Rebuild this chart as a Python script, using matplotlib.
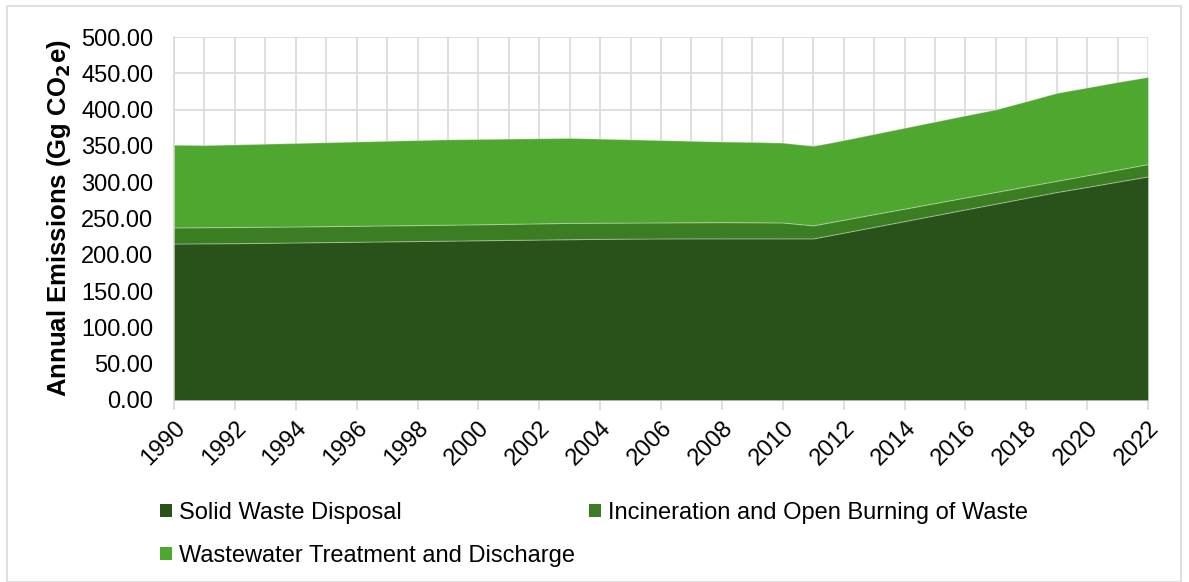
import matplotlib
matplotlib.use("Agg")
import matplotlib.pyplot as plt
from matplotlib.patches import Rectangle, Patch
from matplotlib.ticker import MultipleLocator, FuncFormatter

plt.rcParams['font.family'] = ['Liberation Sans', 'DejaVu Sans']

years = list(range(1990, 2023))

solid_waste = [215.5, 215.8, 216.0, 216.5, 217.0, 217.5, 218.0, 218.5, 219.0, 219.5,
               220.0, 220.5, 221.0, 221.5, 222.0, 222.3, 222.5, 222.6, 222.6, 222.6,
               222.6, 222.6, 230.5, 238.5, 246.5, 254.5, 262.5, 270.5, 278.5, 286.5,
               293.5, 300.8, 308.0]

incineration = [22.2, 22.2, 22.3, 22.2, 22.0, 22.0, 22.0, 22.0, 22.0, 22.0,
                22.0, 22.2, 22.3, 22.5, 22.2, 22.1, 22.1, 22.2, 22.4, 22.2,
                21.9, 18.0, 17.8, 17.5, 17.1, 16.8, 16.5, 16.1, 15.8, 15.5,
                16.1, 16.5, 17.0]

wastewater = [113.8, 113.0, 113.7, 114.3, 115.0, 115.5, 116.0, 116.5, 117.0, 117.5,
              117.5, 117.3, 117.2, 117.0, 115.8, 114.6, 113.4, 112.2, 111.0, 110.7,
              110.0, 109.4, 109.7, 110.5, 111.4, 112.2, 113.0, 113.7, 117.2, 121.0,
              120.9, 120.7, 120.0]

series_names = ["Solid Waste Disposal",
                "Incineration and Open Burning of Waste",
                "Wastewater Treatment and Discharge"]
colors = ["#285219", "#3b7d23", "#4ea72e"]

W, H = 1189, 582
fig = plt.figure(figsize=(W / 100, H / 100), dpi=100)
ax = fig.add_axes([174 / W, 1 - 400 / H, (1148 - 174) / W, (400 - 37) / H])

ax.stackplot(years, solid_waste, incineration, wastewater, colors=colors,
             edgecolor=(1, 1, 1, 0.28), linewidth=0.8, zorder=3)

ax.set_xlim(1990, 2022)
ax.set_ylim(0, 500)
ax.yaxis.set_major_locator(MultipleLocator(50))
ax.yaxis.set_major_formatter(FuncFormatter(lambda v, p: f"{v:.2f}"))
ax.set_xticks(years[::2])
ax.set_xticks(years, minor=True)
ax.set_xticklabels([str(y) for y in years[::2]], rotation=45, ha='right',
                   rotation_mode='anchor', fontsize=17)
ax.tick_params(axis='y', length=0, labelsize=17, pad=15)
ax.tick_params(axis='x', which='major', length=7, width=1.2, color='#d9d9d9', pad=5)
ax.tick_params(axis='x', which='minor', length=0)

ax.grid(True, which='both', axis='x', color='#d9d9d9', linewidth=1.2, zorder=0)
ax.grid(True, which='major', axis='y', color='#d9d9d9', linewidth=1.2, zorder=0)
ax.set_axisbelow(True)
for side in ['top', 'right']:
    ax.spines[side].set_visible(False)
for side in ['left', 'bottom']:
    ax.spines[side].set_color('#d9d9d9')
    ax.spines[side].set_linewidth(1.2)

ax.set_ylabel("Annual Emissions (Gg CO$_\\mathbf{2}$e)", fontsize=18.5, fontweight='bold',
              labelpad=6)

# legend: two columns, filled column by column
order = [0, 2, 1]
handles = [Patch(facecolor=colors[i], edgecolor='none') for i in order]
labels = [series_names[i] for i in order]
fig.legend(handles, labels, loc='upper left',
           bbox_to_anchor=(148 / W, 1 - 490 / H), ncol=2, frameon=False,
           fontsize=17, handlelength=0.5, handleheight=0.5,
           handletextpad=0.3, columnspacing=0.6, labelspacing=0.9, borderpad=0)

fig.patches.append(Rectangle((7 / W, 0), (1181 - 7) / W, 1 - 6 / H,
                             transform=fig.transFigure, fill=False,
                             edgecolor='#d9d9d9', linewidth=1.2))

fig.savefig("out.png", dpi=100)
